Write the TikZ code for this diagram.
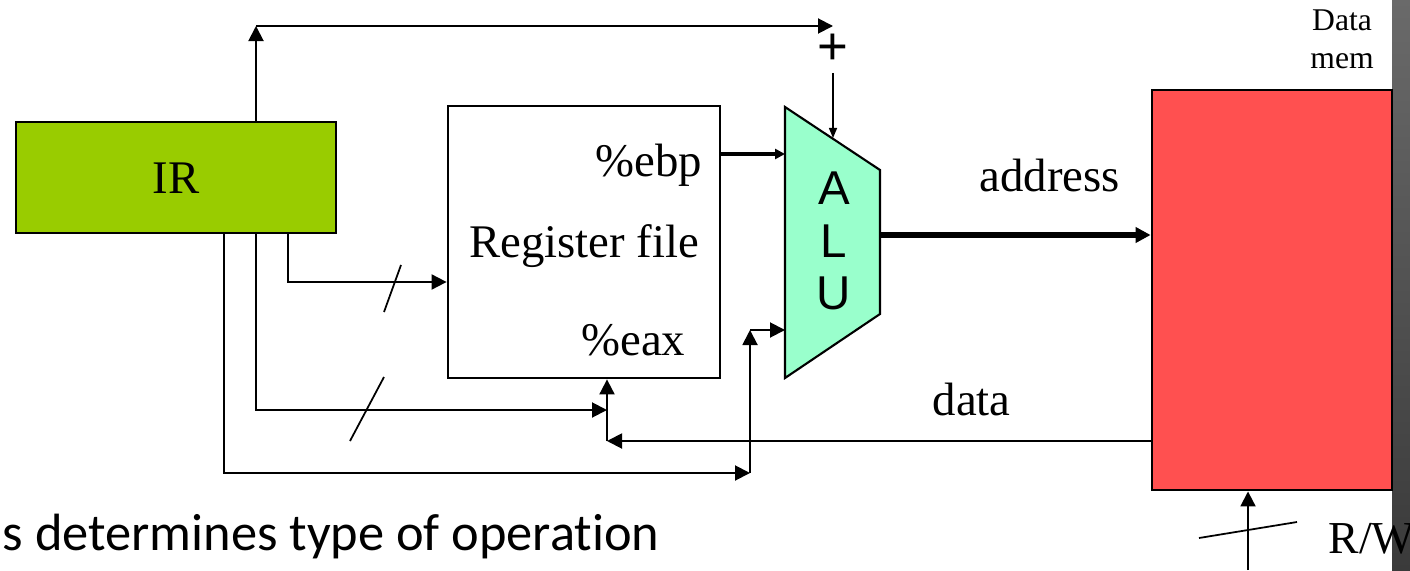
\documentclass[tikz,border=0pt]{standalone}
\usepackage{fontspec}
\setmainfont{Liberation Serif}
\newfontfamily\alufont{Liberation Sans}
\newfontfamily\slidefont[Ligatures=NoCommon]{Carlito}
\usetikzlibrary{arrows.meta}
\definecolor{irgreen}{HTML}{99CC00}
\definecolor{alugreen}{HTML}{99FFCC}
\definecolor{memred}{HTML}{FF5050}
\definecolor{bartop}{HTML}{6A6A6A}
\definecolor{barbot}{HTML}{3A3A3A}
\begin{document}
\begin{tikzpicture}[x=0.01cm,y=-0.01cm,
  wire/.style={line width=0.55pt},
  arr/.style={wire,-{Triangle[length=0.15cm,width=0.15cm]}},
  smallarr/.style={line width=0.4pt,-{Triangle[length=0.1cm,width=0.08cm]}},
  ebparr/.style={line width=1pt,-{Triangle[length=0.1cm,width=0.1cm]}},
  addrarr/.style={line width=1.6pt,-{Triangle[length=0.15cm,width=0.15cm]}},
  boxstyle/.style={draw,line width=0.75pt,inner sep=0pt},
  serif/.style={font=\fontsize{13.3}{16}\selectfont,inner sep=0pt},
  alulet/.style={font=\alufont\fontsize{13.5}{15}\selectfont,inner sep=0pt,anchor=base},
]
\useasboundingbox (0,0) rectangle (1410,570);

% boxes
\node[boxstyle,fill=irgreen,minimum width=3.2cm,minimum height=1.11cm] (ir) at (176,177.5) {};
\node[serif] (irl) at (176,178) {IR};
\node[boxstyle,fill=white,minimum width=2.72cm,minimum height=2.72cm] (rf) at (584,242) {};
\node[serif,anchor=base east] (ebp) at (703,176) {\%ebp};
\node[serif,anchor=base] (rfl) at (584,257) {Register file};
\node[serif,anchor=base east] (eax) at (686,355) {\%eax};

% ALU
\draw[line width=0.6pt,fill=alugreen] (785,107) -- (880,170) -- (880,314) -- (785,378) -- cycle;
\node[alulet] (la) at (834,204) {A};
\node[alulet] (ll) at (834,257) {L};
\node[alulet] (lu) at (834,309) {U};
\coordinate (aluA) at (785,154);
\coordinate (aluB) at (785,330);
\coordinate (alutop) at (833,138);
\coordinate (aluout) at (880,235);

% data memory
\shade[top color=bartop,bottom color=barbot] (1392,0) rectangle (1410,570);
\node[boxstyle,fill=memred,minimum width=2.4cm,minimum height=4.0cm] (mem) at (1272,290) {};
\node[font=\fontsize{9}{10.8}\selectfont,align=center,inner sep=0pt] (meml) at (1342,39) {Data\\mem};

% labels
\node[serif,anchor=base west] (addr) at (979,192) {address};
\node[serif,anchor=base west] (datal) at (932,415) {data};
\node[font=\alufont\fontsize{15}{17}\selectfont,inner sep=0pt] (plusl) at (833,49) {+};
\node[font=\fontsize{13}{16}\selectfont,inner sep=0pt,anchor=base west] (rw) at (1328,553) {R/W};
\node[font=\slidefont\fontsize{14.9}{18}\selectfont,inner sep=0pt,anchor=base west] (op) at (2,550) {s determines type of operation};

% coordinates for wires
\coordinate (t1) at (256,26);
\coordinate (plus) at (833,26);
\coordinate (pluswire) at (833,73);
\coordinate (j1) at (607,410);
\coordinate (j2) at (750,473);
\coordinate (j3) at (750,330);
\coordinate (j4) at (607,441);
\coordinate (rwin) at (1248,570);

% wires
\draw[arr] (ir.north -| t1) -- (t1);
\draw[arr] (t1) -- (plus);
\draw[smallarr] (pluswire) -- (alutop);
\draw[ebparr] (rf.east |- aluA) -- (aluA);
\draw[addrarr] (aluout) -- (mem.west |- aluout);
\draw[arr] (ir.south -| 288,0) |- (rf.west |- 0,282);
\draw[arr] (ir.south -| 256,0) |- (j1);
\draw[arr] (ir.south -| 224,0) |- (j2);
\draw[arr] (j2) -- (j3);
\draw[arr] (j3) -- (aluB);
\draw[arr] (mem.west |- j4) -- (j4);
\draw[arr] (j4) -- (rf.south -| j4);
\draw[arr] (rwin) -- (mem.south -| rwin);

% bus slashes
\draw[line width=0.5pt] (384,312) -- (401,265);
\draw[line width=0.5pt] (350,441) -- (384,377);
\draw[line width=0.5pt] (1199,538) -- (1297,522);
\end{tikzpicture}
\end{document}
